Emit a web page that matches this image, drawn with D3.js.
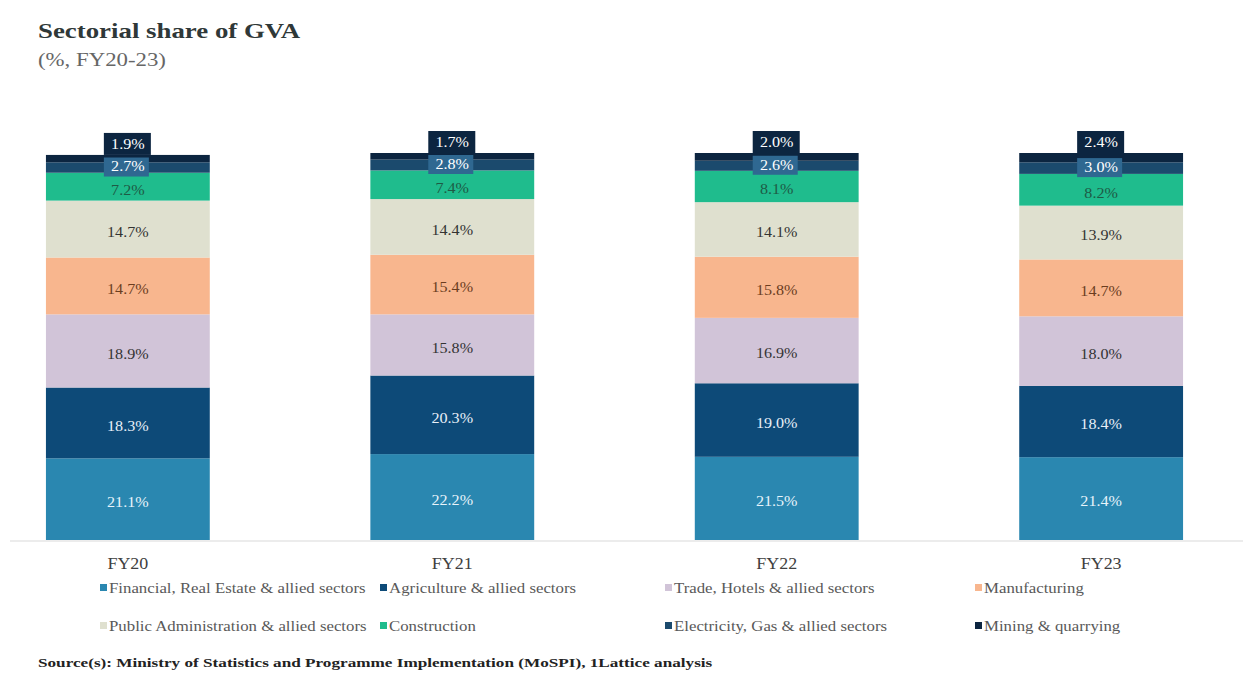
<!DOCTYPE html>
<html>
<head>
<meta charset="utf-8">
<script src="https://cdn.jsdelivr.net/npm/d3@7"></script>
<style>
  body { margin: 0; background: #fff; }
  svg { display: block; font-family: "Liberation Serif", "DejaVu Serif", serif; }
</style>
</head>
<body>
<div id="chart"></div>
<script>
// Data
var categories = ["FY20", "FY21", "FY22", "FY23"];
var financial = [21.1, 22.2, 21.5, 21.4];
var agriculture = [18.3, 20.3, 19.0, 18.4];
var trade = [18.9, 15.8, 16.9, 18.0];
var manufacturing = [14.7, 15.4, 15.8, 14.7];
var publicAdmin = [14.7, 14.4, 14.1, 13.9];
var construction = [7.2, 7.4, 8.1, 8.2];
var electricity = [2.7, 2.8, 2.6, 3.0];
var mining = [1.9, 1.7, 2.0, 2.4];

var seriesNames = [
  "Financial, Real Estate & allied sectors",
  "Agriculture & allied sectors",
  "Trade, Hotels & allied sectors",
  "Manufacturing",
  "Public Administration & allied sectors",
  "Construction",
  "Electricity, Gas & allied sectors",
  "Mining & quarrying"
];
var seriesValues = [financial, agriculture, trade, manufacturing, publicAdmin, construction, electricity, mining];

var colors = ["#2a87b0", "#0d4a78", "#d1c4d8", "#f8b68e", "#dfe0cf", "#1fbc8d", "#1b4a6d", "#0c2540"];
var textColors = ["#e8f4fb", "#e8f0f8", "#333333", "#6b3d1f", "#333333", "#1e5a45", "#ffffff", "#ffffff"];

var width = 1248, height = 679;

var svg = d3.select("#chart").append("svg")
  .attr("width", width)
  .attr("height", height);

// the original text is drawn wider than the font, so stretch it a bit
function stretch(sel, f) {
  sel.each(function () {
    var len = this.getComputedTextLength();
    d3.select(this).attr("textLength", len * f).attr("lengthAdjust", "spacingAndGlyphs");
  });
}

// Build rows for stacking
var rows = categories.map(function (c, i) {
  var row = { cat: c };
  seriesNames.forEach(function (s, j) { row[s] = seriesValues[j][i]; });
  return row;
});

var stacked = d3.stack().keys(seriesNames)(rows);

var x = d3.scaleBand()
  .domain(categories)
  .range([13.5, 1215.5])
  .paddingInner(0.495)
  .paddingOuter(0.1);

var y = d3.scaleLinear()
  .domain([0, 100])
  .range([540, 153]);

// Title
svg.append("text")
  .attr("x", 38).attr("y", 38)
  .attr("font-size", 22).attr("font-weight", "bold").attr("fill", "#2f3838")
  .text("Sectorial share of GVA")
  .call(stretch, 1.22);
svg.append("text")
  .attr("x", 38).attr("y", 66)
  .attr("font-size", 19).attr("fill", "#666")
  .text("(%, FY20-23)")
  .call(stretch, 1.2);

// Axis line
svg.append("line")
  .attr("x1", 10).attr("x2", 1243)
  .attr("y1", 541).attr("y2", 541)
  .attr("stroke", "#d9d9d9").attr("stroke-width", 1.2);

// Bars
var layer = svg.append("g").selectAll("g")
  .data(stacked)
  .enter().append("g")
  .attr("fill", function (d, i) { return colors[i]; });

layer.selectAll("rect")
  .data(function (d) { return d; })
  .enter().append("rect")
  .attr("x", function (d) { return x(d.data.cat); })
  .attr("width", x.bandwidth())
  .attr("y", function (d) { return y(d[1]); })
  .attr("height", function (d) { return y(d[0]) - y(d[1]); });

// Value labels
stacked.forEach(function (s, i) {
  s.forEach(function (d) {
    var cx = x(d.data.cat) + x.bandwidth() / 2;
    var cy = (y(d[0]) + y(d[1])) / 2 + 3;
    var label = d3.format(".1f")(d[1] - d[0]) + "%";
    var g = svg.append("g");
    if (i === 7) {
      // mining label sits on a box above the bar
      cy = y(d[1]) - 11;
      g.append("rect")
        .attr("x", cx - 24).attr("y", cy - 11)
        .attr("width", 47).attr("height", 22)
        .attr("fill", colors[7]);
    } else if (i === 6) {
      cy = cy - 4;
      g.append("rect")
        .attr("x", cx - 24).attr("y", cy - 9)
        .attr("width", 45).attr("height", 19)
        .attr("fill", "#2f6891");
    }
    g.append("text")
      .attr("x", cx).attr("y", cy)
      .attr("dy", "0.35em")
      .attr("text-anchor", "middle")
      .attr("font-size", 14)
      .attr("fill", textColors[i])
      .text(label)
      .call(stretch, 1.15);
  });
});

// Category labels
svg.append("g").selectAll("text")
  .data(categories)
  .enter().append("text")
  .attr("x", function (d) { return x(d) + x.bandwidth() / 2; })
  .attr("y", 569)
  .attr("text-anchor", "middle")
  .attr("font-size", 16)
  .attr("fill", "#404040")
  .text(function (d) { return d; })
  .call(stretch, 1.12);

// Legend
var legendX = [100, 380, 665, 975];
var legendY = [588, 626];
var legend = svg.append("g").selectAll("g")
  .data(seriesNames)
  .enter().append("g")
  .attr("transform", function (d, i) {
    return "translate(" + legendX[i % 4] + "," + legendY[Math.floor(i / 4)] + ")";
  });
legend.append("rect")
  .attr("x", 0).attr("y", -4)
  .attr("width", 7).attr("height", 7)
  .attr("fill", function (d, i) { return colors[i]; });
legend.append("text")
  .attr("x", 9).attr("y", 0)
  .attr("dy", "0.35em")
  .attr("font-size", 15)
  .attr("fill", "#595959")
  .text(function (d) { return d; })
  .call(stretch, 1.12);

// Source
svg.append("text")
  .attr("x", 38).attr("y", 667)
  .attr("font-size", 13).attr("font-weight", "bold").attr("fill", "#222")
  .text("Source(s): Ministry of Statistics and Programme Implementation (MoSPI), 1Lattice analysis")
  .call(stretch, 1.32);
</script>
</body>
</html>
